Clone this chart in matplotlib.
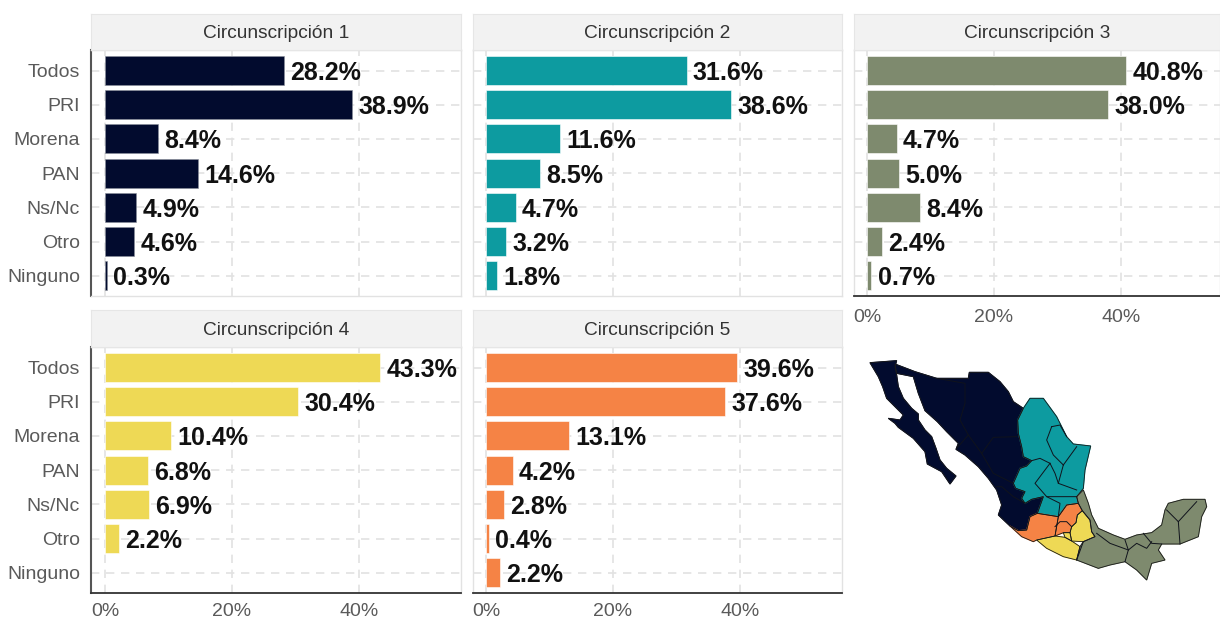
import matplotlib
matplotlib.use("Agg")
import matplotlib.pyplot as plt
from matplotlib.patches import Polygon

plt.rcParams['font.family'] = ['Liberation Sans', 'DejaVu Sans']

# data
categories = ["Todos", "PRI", "Morena", "PAN", "Ns/Nc", "Otro", "Ninguno"]
titles = ["Circunscripción 1", "Circunscripción 2", "Circunscripción 3",
          "Circunscripción 4", "Circunscripción 5"]
circ1 = [28.2, 38.9, 8.4, 14.6, 4.9, 4.6, 0.3]
circ2 = [31.6, 38.6, 11.6, 8.5, 4.7, 3.2, 1.8]
circ3 = [40.8, 38.0, 4.7, 5.0, 8.4, 2.4, 0.7]
circ4 = [43.3, 30.4, 10.4, 6.8, 6.9, 2.2, None]
circ5 = [39.6, 37.6, 13.1, 4.2, 2.8, 0.4, 2.2]
values = [circ1, circ2, circ3, circ4, circ5]
colors = ["#020b2e", "#0d9ba0", "#7e8a6e", "#eed955", "#f58345"]
xticks = [0, 20, 40]
xticklabels = ["0%", "20%", "40%"]

# map outlines (map units, y going down)
baja = [(60,68),(140,62),(135,80),(140,105),(145,140),(160,175),(185,205),(205,222),(205,240),(225,270),
        (245,290),(258,325),(270,360),(290,385),(318,408),(300,432),(275,395),(232,372),(225,335),(190,295),
        (145,262),(135,250),(115,235),(150,240),(160,225),(130,195),(110,175),(98,140),(85,110)]
norte = [(135,72),(195,95),(260,115),(355,115),(358,97),(415,97),(450,125),(475,155),(490,185),(520,205),
         (503,240),(505,280),(515,320),(520,350),(545,362),(530,378),(510,385),(490,430),(497,445),(525,455),
         (515,475),(525,490),(545,478),(580,470),(562,520),(540,530),(530,570),(505,572),(480,558),(445,525),
         (455,495),(440,450),(415,415),(385,380),(345,345),(318,328),(325,310),(290,275),(262,245),(225,212),
         (205,160),(190,110),(140,100)]
noreste = [(540,175),(580,175),(620,230),(650,290),(670,312),(722,318),(705,390),(700,445),(680,470),(685,490),
           (650,495),(625,530),(562,520),(580,470),(545,478),(525,490),(515,475),(525,455),(497,445),(490,430),
           (510,385),(530,378),(545,362),(520,350),(515,320),(505,280),(503,240),(520,205)]
michoacan = [(480,558),(505,572),(530,570),(540,530),(562,520),(625,530),(615,588),(560,600),(550,605),(515,590)]
centro = [(650,495),(685,490),(697,512),(682,525),(678,548),(665,560),(660,578),(640,578),(615,588),(625,530)]
guerrero = [(560,600),(615,588),(645,592),(665,603),(690,620),(680,660),(640,650),(590,625)]
morelos = [(640,578),(660,578),(665,603),(645,592)]
puebla = [(697,512),(720,540),(725,575),(735,590),(700,605),(665,603),(660,578),(665,560),(678,548),(682,525)]
sureste = [(680,470),(700,450),(715,490),(725,525),(745,565),(790,585),(825,598),(860,585),(905,578),(935,555),
           (945,510),(955,490),(1000,478),(1065,478),(1070,500),(1055,530),(1045,590),(990,612),(935,612),(925,630),
           (945,660),(905,670),(890,720),(860,690),(825,665),(780,675),(745,685),(680,660),(690,620),(700,605),
           (735,590),(725,575),(720,540),(697,512),(685,490)]
map_shapes = [(baja, 0), (norte, 0), (noreste, 1), (michoacan, 4), (centro, 4),
              (guerrero, 3), (morelos, 3), (puebla, 3), (sureste, 2)]
# state borders inside the regions
borders = [[(260,115),(345,130),(345,190),(330,240),(355,285),(320,325)],
           [(355,285),(395,340),(430,292),(500,290)],
           [(395,340),(430,400),(490,430)],
           [(440,440),(455,440),(490,470),(525,490)],
           [(600,370),(570,355),(545,362)],
           [(600,370),(555,430),(590,470),(680,470)],
           [(600,370),(615,400),(625,430),(680,450)],
           [(640,375),(680,320)],
           [(640,375),(625,430)],
           [(605,260),(590,300),(610,345),(640,375)],
           [(605,260),(630,255),(650,290)],
           [(590,470),(630,490),(625,530)],
           [(950,510),(985,545),(1040,485)],
           [(985,545),(990,612)],
           [(880,580),(905,610),(935,612)],
           [(825,600),(835,630),(825,665)],
           [(835,630),(860,610),(890,625),(905,605)],
           [(740,580),(780,610),(835,630)],
           [(615,560),(630,545),(650,545),(665,560)],
           [(680,660),(700,605)]]

W, H = 1220, 620


def add_px_axes(x0, y0, x1, y1):
    # axes from pixel box, y from the top
    return fig.add_axes([x0/W, 1-y1/H, (x1-x0)/W, (y1-y0)/H])


fig = plt.figure(figsize=(W/100, H/100), dpi=100)

boxes = [(91, 50, 461, 296), (473, 50, 842, 296), (854, 50, 1220, 296),
         (91, 347, 461, 593), (473, 347, 842, 593)]
strip_tops = [14, 14, 14, 310, 310]
x_left = [-2.2, -2.05, -2.05, -2.2, -2.05]
ypos = list(range(len(categories), 0, -1))

for i, box in enumerate(boxes):
    ax = add_px_axes(*box)
    ax.set_xlim(x_left[i], x_left[i] + (box[2]-box[0])/6.35)
    ax.set_ylim(0.41, 7.6)
    ax.set_axisbelow(True)
    ax.grid(True, color="#e2e2e2", linestyle=(0, (5, 4)), linewidth=1.2)
    for y, v in zip(ypos, values[i]):
        if v is None:
            continue
        ax.barh(y, v, height=0.85, color=colors[i], edgecolor="#8a8f9a" if i == 0 else "#ffffff", linewidth=0.4)
        ax.annotate(f"{v:.1f}%", (v, y), xytext=(4.5, 0), textcoords="offset points",
                    va="center_baseline", ha="left", fontsize=18, fontweight="bold", color="#111111")
    ax.set_xticks(xticks)
    ax.set_xticklabels(xticklabels)
    ax.set_yticks(ypos)
    ax.set_yticklabels(categories)
    ax.tick_params(length=0, labelsize=14, labelcolor="#5a5a5a", pad=8)
    ax.tick_params(axis="x", pad=9 if i == 2 else 7)
    if i not in (2, 3, 4):
        ax.tick_params(axis="x", labelbottom=False)
    if i not in (0, 3):
        ax.tick_params(axis="y", labelleft=False)
    for s in ax.spines.values():
        s.set_color("#e2e2e2")
        s.set_linewidth(1)
    if i in (0, 3):
        ax.spines["left"].set_color("#555555")
        ax.spines["left"].set_linewidth(1.5)
    if i in (2, 3, 4):
        ax.spines["bottom"].set_color("#333333")
        ax.spines["bottom"].set_linewidth(1.3)

    # facet strip above the panel
    strip = add_px_axes(box[0], strip_tops[i], box[2], box[1])
    strip.set_xticks([])
    strip.set_yticks([])
    strip.set_facecolor("#f2f2f2")
    for s in strip.spines.values():
        s.set_color("#e6e6e6")
    strip.text(0.5, 0.5, titles[i], transform=strip.transAxes, ha="center", va="center_baseline",
               fontsize=13.8, color="#333333")

# map of the five regions
mp = add_px_axes(850, 340, 1220, 600)
mp.set_xlim(0, 1110)
mp.set_ylim(780, 0)
mp.axis("off")
for pts, c in map_shapes:
    mp.add_patch(Polygon(pts, closed=True, facecolor=colors[c], edgecolor=colors[c], linewidth=0.8))
for line in borders:
    xs = [p[0] for p in line]
    ys = [p[1] for p in line]
    mp.plot(xs, ys, color="#10131c", linewidth=0.7)
for pts, c in map_shapes:
    mp.add_patch(Polygon(pts, closed=True, fill=False, edgecolor="#1a1a1a", linewidth=0.6))

fig.savefig("out.png", dpi=100)
